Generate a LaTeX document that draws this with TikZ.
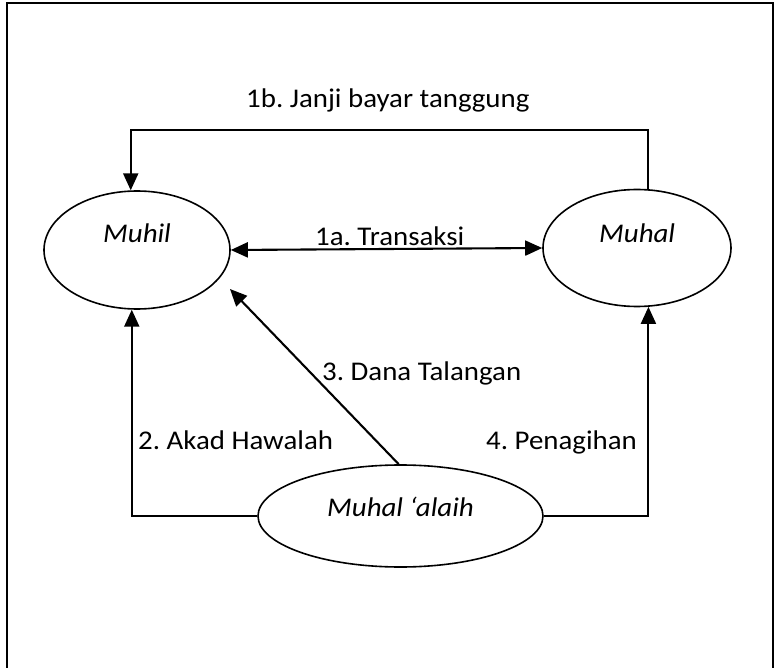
\documentclass[tikz,border=0pt]{standalone}
\usepackage{fontspec}
\setmainfont{Carlito}
\usetikzlibrary{arrows.meta,shapes.geometric}
\newcommand{\stretchtxt}[1]{\scalebox{1.07}[1]{#1}}
\begin{document}
\frenchspacing
\begin{tikzpicture}[x=1pt,y=-1pt,
  ell/.style={draw,ellipse,line width=1.6pt,inner sep=0pt},
  lbl/.style={inner sep=0pt,font=\fontsize{27}{32}\selectfont},
  conn/.style={line width=2.1pt},
  tip/.tip={Triangle[length=17pt,width=15pt]},
  arr/.style={conn,-tip}]
\useasboundingbox (0,0) rectangle (774,668);
\draw[line width=2pt] (6.5,3.5) rectangle (772.5,680);
% ellipses
\node[ell,minimum width=186pt,minimum height=118pt] (muhil) at (137,250) {};
\node[ell,minimum width=188pt,minimum height=117pt] (muhal) at (637,248) {};
\node[ell,minimum width=285pt,minimum height=102pt] (alaih) at (400.5,516) {};
% ellipse texts
\node[lbl,anchor=base west] (tmuhil) at (103,243) {\stretchtxt{\itshape Muhil}};
\node[lbl,anchor=base west] (tmuhal) at (599,243) {\stretchtxt{\itshape Muhal}};
\node[lbl,anchor=base west] (talaih) at (327,516) {\stretchtxt{\itshape Muhal ‘alaih}};
% connectors
\coordinate (t3) at (230,289);
\draw[arr] (muhal.79) |- (388,130) -| (muhil.96);
\draw[conn,tip-tip] (muhil.east) -- (muhal.west);
\draw[arr] (alaih.west) -| (muhil.265);
\draw[arr] (alaih.east) -| (muhal.281);
\draw[arr] (alaih.92) -- (t3);
% labels
\node[lbl,anchor=base west] (l1b) at (246,108) {\stretchtxt{1b. Janji bayar tanggung}};
\node[lbl,anchor=base west] (l1a) at (315,246) {\stretchtxt{1a. Transaksi}};
\node[lbl,anchor=base west] (l3) at (322,381) {\stretchtxt{3. Dana Talangan}};
\node[lbl,anchor=base west] (l2) at (138,449) {\stretchtxt{2. Akad Hawalah}};
\node[lbl,anchor=base east] (l4) at (637,449) {\stretchtxt{4. Penagihan}};
\end{tikzpicture}
\end{document}
